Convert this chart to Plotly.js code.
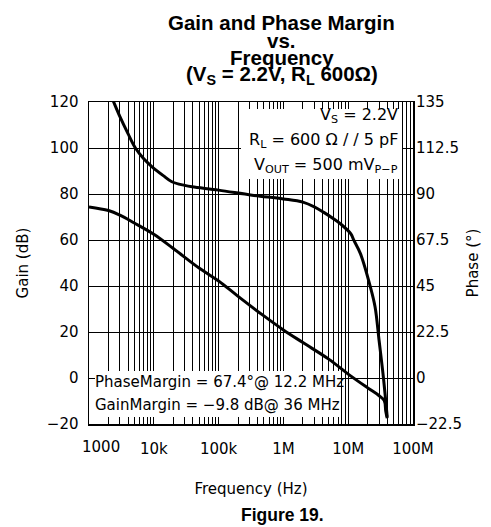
<!DOCTYPE html>
<html><head><meta charset="utf-8">
<script src="https://cdn.plot.ly/plotly-3.0.1.min.js"></script>
<style>html,body{margin:0;padding:0;background:#fff}#chart{width:491px;height:527px}</style>
</head><body><div id="chart"></div>
<script>
// ---- data ----
const gainFreqHz = [1e3, 2e3, 3e3, 5e3, 1e4, 2e4, 5e4, 1e5, 2e5, 5e5, 1e6, 2e6, 5e6, 1e7, 2e7, 3e7, 3.6e7, 3.8e7, 4.0e7];
const gainDb     = [74.4, 72.8, 70.8, 67.4, 62.5, 56.3, 47.8, 42.2, 35.5, 27.0, 20.9, 15.4, 8.2, 1.7, -4.3, -7.7, -9.8, -14.5, -17.5];

const phaseFreqHz = [2.0e3, 2.4e3, 3e3, 4e3, 5.2e3, 7e3, 9.4e3, 1.4e4, 1.9e4, 3e4, 3.9e4, 1e5, 3.3e5, 1e6, 2e6, 3e6, 4.2e6, 6e6, 7.6e6, 1.1e7, 1.22e7, 1.55e7, 2.2e7, 2.6e7, 3e7, 3.5e7, 4.0e7];
const phaseDeg    = [141, 135, 127.8, 119.5, 112.5, 107.2, 103.3, 99, 96, 94.2, 93.5, 91.9, 89.4, 87.6, 86, 83.7, 81, 77.8, 75.4, 70.5, 67.4, 60.7, 44.5, 34.7, 18.2, 0, -19];

const xTickVals = [1e3, 1e4, 1e5, 1e6, 1e7, 1e8];
const xTickText = ['1000', '10k', '100k', '1M', '10M', '100M'];
const gainTickVals = [-20, 0, 20, 40, 60, 80, 100, 120];
const phaseTickVals = [-22.5, 0, 22.5, 45, 67.5, 90, 112.5, 135];
const phaseTickText = ['\u221222.5', '0', '22.5', '45', '67.5', '90', '112.5', '135'];

const titleLines = ['Gain and Phase Margin', 'vs.', 'Frequency', '(V<sub>S</sub> = 2.2V, R<sub>L</sub> 600\u03A9)'];
const condLines = ['V<sub>S</sub> = 2.2V', 'R<sub>L</sub> = 600 \u03A9 / / 5 pF', 'V<sub>OUT</sub> = 500 mV<sub>P\u2212P</sub>'];
const marginLines = ['PhaseMargin = 67.4\u00B0@ 12.2 MHz', 'GainMargin = \u22129.8 dB@ 36 MHz'];
const figureCaption = 'Figure 19.';

// ---- layout helpers ----
const L = 89, T = 102, W = 324, H = 322;
const px = x => (x - L) / W;
const py = y => (T + H - y) / H;

const minorVals = [];
for (let d = 3; d < 8; d++) for (let k = 2; k <= 9; k++) minorVals.push(k * Math.pow(10, d));

const axFont = {family: 'DejaVu Sans, sans-serif', size: 15, color: '#000'};
const condFont = {family: 'DejaVu Sans, sans-serif', size: 16, color: '#000'};
const titleFont = {family: 'Liberation Sans, Arial, sans-serif', size: 20.5, color: '#000', weight: 'bold'};
const capFont = {family: 'Liberation Sans, Arial, sans-serif', size: 17.5, color: '#000', weight: 'bold'};

const traces = [
  {x: gainFreqHz, y: gainDb, type: 'scatter', mode: 'lines', name: 'Gain',
   line: {color: '#000', width: 3, shape: 'spline', smoothing: 1}, xaxis: 'x', yaxis: 'y', hoverinfo: 'skip'},
  {x: phaseFreqHz, y: phaseDeg, type: 'scatter', mode: 'lines', name: 'Phase',
   line: {color: '#000', width: 3, shape: 'spline', smoothing: 1}, xaxis: 'x', yaxis: 'y2', hoverinfo: 'skip'}
];

const annotations = [];
const titleY = [23, 40.5, 57.5, 74.5];
titleLines.forEach((t, i) => annotations.push({
  text: '<b>' + t + '</b>', xref: 'paper', yref: 'paper', x: px(281.5), y: py(titleY[i]),
  xanchor: 'center', yanchor: 'middle', showarrow: false, font: titleFont}));
const condY = [115, 140, 165];
condLines.forEach((t, i) => annotations.push({
  text: t, xref: 'paper', yref: 'paper', x: px(400), y: py(condY[i]),
  xanchor: 'right', yanchor: 'middle', showarrow: false, font: condFont}));
const marginY = [382, 405];
marginLines.forEach((t, i) => annotations.push({
  text: t, xref: 'paper', yref: 'paper', x: px(93), y: py(marginY[i]),
  xanchor: 'left', yanchor: 'middle', showarrow: false, font: axFont}));
annotations.push({text: xTickText[0], xref: 'paper', yref: 'paper', x: px(101), y: py(447),
  xanchor: 'center', yanchor: 'middle', showarrow: false, font: axFont});
annotations.push({text: '<b>' + figureCaption + '</b>', xref: 'paper', yref: 'paper', x: px(282), y: py(515),
  xanchor: 'center', yanchor: 'middle', showarrow: false, font: capFont});

// white panels behind the two text blocks (they hide the grid but leave the tick band visible)
const shapes = [
  {type: 'rect', xref: 'paper', yref: 'paper', x0: px(241), x1: px(402), y0: py(179), y1: py(109),
   fillcolor: '#fff', line: {width: 0}, layer: 'above'},
  {type: 'rect', xref: 'paper', yref: 'paper', x0: px(95), x1: px(340), y0: py(417), y1: py(371),
   fillcolor: '#fff', line: {width: 0}, layer: 'above'}
];

const layout = {
  width: 491, height: 527,
  margin: {l: L, r: 491 - L - W, t: T, b: 527 - T - H, autoexpand: false},
  paper_bgcolor: '#fff', plot_bgcolor: '#fff',
  showlegend: false,
  font: axFont,
  xaxis: {
    type: 'log', range: [3, 8], autorange: false,
    tickmode: 'array', tickvals: xTickVals.slice(1), ticktext: xTickText.slice(1),
    ticks: 'inside', ticklen: 7, tickwidth: 1, tickcolor: '#000',
    showgrid: true, gridcolor: '#000', gridwidth: 1,
    minor: {tickmode: 'array', tickvals: minorVals, ticks: 'inside', ticklen: 7, tickcolor: '#000',
            showgrid: true, gridcolor: '#000', gridwidth: 1},
    showline: true, linecolor: '#000', linewidth: 1.5, mirror: 'ticks',
    zeroline: false, automargin: false, tickfont: axFont, ticklabelstandoff: 10,
    title: {text: 'Frequency (Hz)', font: axFont, standoff: 27}
  },
  yaxis: {
    range: [-20, 120], autorange: false, tickmode: 'array', tickvals: gainTickVals,
    ticks: 'inside', ticklen: 6, tickcolor: '#000',
    showgrid: true, gridcolor: '#000', gridwidth: 1,
    showline: true, linecolor: '#000', linewidth: 1.5, mirror: true,
    zeroline: false, automargin: false, tickfont: axFont, ticklabelstandoff: 6,
    title: {text: 'Gain (dB)', font: axFont, standoff: 14}
  },
  yaxis2: {
    overlaying: 'y', side: 'right', range: [-22.5, 135], autorange: false,
    tickmode: 'array', tickvals: phaseTickVals, ticktext: phaseTickText,
    ticks: 'inside', ticklen: 6, tickcolor: '#000',
    showgrid: false, showline: false, zeroline: false, automargin: false,
    tickfont: axFont, ticklabelstandoff: 2,
    title: {text: 'Phase (\u00B0)', font: axFont, standoff: 6}
  },
  annotations: annotations,
  shapes: shapes
};

Plotly.newPlot('chart', traces, layout, {displayModeBar: false, staticPlot: true});
</script>
</body></html>
